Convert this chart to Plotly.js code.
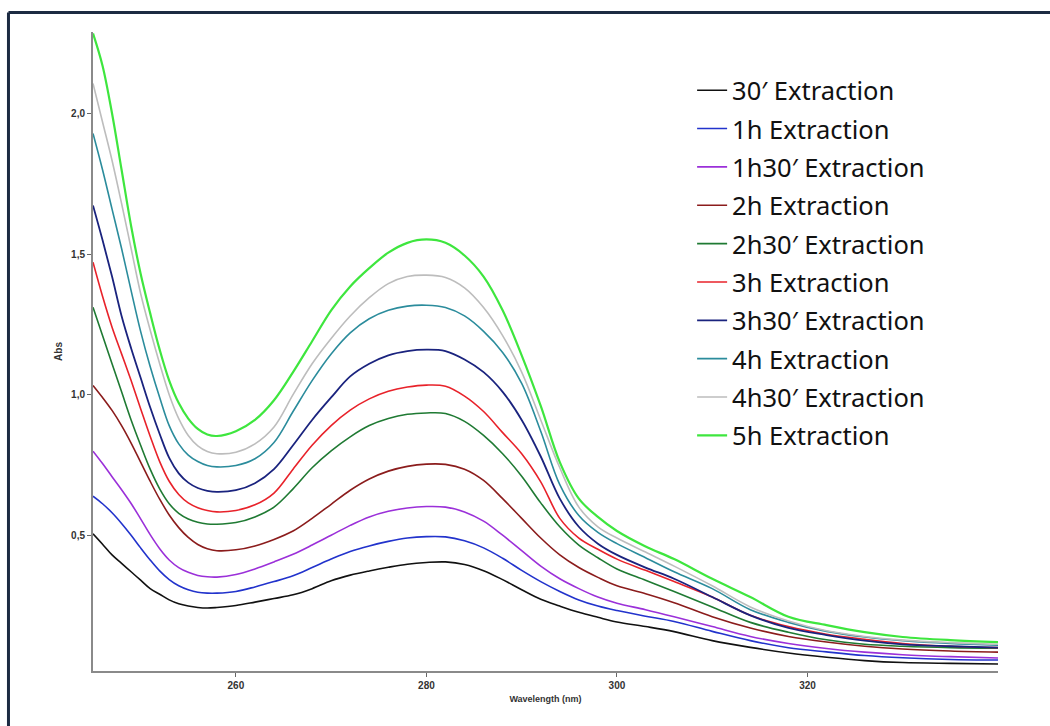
<!DOCTYPE html>
<html>
<head>
<meta charset="utf-8">
<script src="https://cdn.plot.ly/plotly-3.0.1.min.js"></script>
<style>
  html, body { margin: 0; padding: 0; background: #ffffff; }
  #chart { width: 1050px; height: 726px; }
</style>
</head>
<body>
<div id="chart"></div>
<script>
// Wavelength grid (nm)
const wavelength = [245,246,247,248,249,250,251,252,253,254,255,256,257,258,260,262,264,266,268,270,272,274,276,278,280,282,284,286,288,290,292,294,296,298,300,303,306,310,314,318,322,326,330,335,340];

const seriesNames = ["30′ Extraction","1h Extraction","1h30′ Extraction","2h Extraction","2h30′ Extraction","3h Extraction","3h30′ Extraction","4h Extraction","4h30′ Extraction","5h Extraction"];

const abs30m = [0.505,0.468,0.43,0.40,0.37,0.34,0.31,0.29,0.27,0.256,0.248,0.243,0.241,0.243,0.250,0.262,0.275,0.288,0.31,0.338,0.358,0.373,0.386,0.397,0.403,0.405,0.396,0.374,0.342,0.306,0.272,0.248,0.226,0.208,0.191,0.175,0.157,0.125,0.101,0.081,0.066,0.054,0.047,0.044,0.042];
const abs1h = [0.639,0.612,0.58,0.542,0.50,0.455,0.412,0.373,0.342,0.32,0.306,0.297,0.294,0.294,0.30,0.316,0.335,0.356,0.385,0.415,0.442,0.462,0.478,0.490,0.495,0.494,0.48,0.455,0.418,0.375,0.335,0.30,0.27,0.248,0.232,0.212,0.193,0.158,0.125,0.10,0.085,0.072,0.064,0.058,0.056];
const abs1h30 = [0.799,0.755,0.708,0.662,0.613,0.558,0.502,0.452,0.412,0.385,0.368,0.357,0.352,0.351,0.36,0.38,0.405,0.432,0.465,0.50,0.535,0.565,0.585,0.597,0.602,0.600,0.583,0.55,0.50,0.445,0.39,0.345,0.31,0.28,0.258,0.235,0.21,0.175,0.14,0.115,0.097,0.084,0.075,0.068,0.063];
const abs2h = [1.033,0.99,0.944,0.89,0.828,0.76,0.692,0.628,0.572,0.527,0.492,0.467,0.452,0.445,0.448,0.462,0.485,0.515,0.56,0.61,0.66,0.70,0.728,0.745,0.753,0.752,0.735,0.695,0.63,0.56,0.49,0.43,0.385,0.35,0.32,0.292,0.26,0.21,0.17,0.14,0.12,0.105,0.095,0.088,0.084];
const abs2h30 = [1.311,1.21,1.11,1.01,0.91,0.82,0.735,0.665,0.612,0.578,0.558,0.546,0.54,0.539,0.545,0.565,0.60,0.665,0.74,0.80,0.85,0.89,0.915,0.93,0.935,0.933,0.905,0.855,0.79,0.71,0.615,0.53,0.465,0.42,0.38,0.34,0.30,0.245,0.19,0.155,0.128,0.112,0.105,0.10,0.098];
const abs3h = [1.471,1.35,1.24,1.145,1.05,0.95,0.852,0.762,0.692,0.645,0.615,0.598,0.588,0.583,0.588,0.608,0.65,0.735,0.82,0.89,0.945,0.985,1.012,1.027,1.034,1.03,0.995,0.94,0.865,0.79,0.69,0.56,0.49,0.45,0.415,0.375,0.335,0.28,0.215,0.175,0.148,0.13,0.115,0.105,0.10];
const abs3h30 = [1.673,1.55,1.42,1.28,1.165,1.06,0.955,0.86,0.775,0.72,0.687,0.668,0.658,0.654,0.66,0.685,0.735,0.82,0.91,0.99,1.065,1.11,1.14,1.155,1.16,1.155,1.125,1.08,1.01,0.91,0.78,0.63,0.53,0.47,0.43,0.385,0.345,0.28,0.215,0.17,0.145,0.125,0.112,0.105,0.10];
const abs4h = [1.929,1.80,1.66,1.52,1.37,1.225,1.10,0.99,0.89,0.825,0.785,0.762,0.748,0.743,0.748,0.772,0.83,0.94,1.05,1.145,1.22,1.27,1.30,1.315,1.318,1.31,1.28,1.225,1.15,1.04,0.87,0.68,0.57,0.51,0.47,0.42,0.37,0.31,0.235,0.19,0.158,0.138,0.125,0.115,0.109];
const abs4h30 = [2.107,1.97,1.833,1.68,1.52,1.36,1.23,1.11,1.00,0.915,0.855,0.818,0.798,0.79,0.795,0.825,0.885,1.00,1.11,1.20,1.28,1.345,1.395,1.42,1.425,1.417,1.38,1.31,1.21,1.08,0.91,0.74,0.60,0.53,0.49,0.44,0.39,0.32,0.245,0.195,0.16,0.14,0.127,0.118,0.112];
const abs5h = [2.285,2.17,2.00,1.80,1.60,1.43,1.29,1.16,1.05,0.97,0.915,0.878,0.858,0.853,0.87,0.91,0.98,1.08,1.19,1.30,1.385,1.45,1.505,1.54,1.552,1.54,1.495,1.42,1.30,1.14,0.96,0.76,0.63,0.565,0.515,0.46,0.415,0.345,0.28,0.21,0.18,0.155,0.138,0.127,0.12];

const yTickVals = [0.5, 1.0, 1.5, 2.0];
const yTickText = ["0,5", "1,0", "1,5", "2,0"];
const xTickVals = [260, 280, 300, 320];

const allSeries = [abs30m, abs1h, abs1h30, abs2h, abs2h30, abs3h, abs3h30, abs4h, abs4h30, abs5h];
const colors = ["#111111", "#2233cc", "#9b30d9", "#8b1c1c", "#1f7a33", "#e8222a", "#1a237e", "#2b8c9c", "#bdbdbd", "#3ee63e"];
const widths = [1.6,1.6,1.6,1.6,1.6,1.6,1.8,1.6,1.6,2.2];

const traces = allSeries.map((ys, i) => ({
  type: 'scatter',
  mode: 'lines',
  x: wavelength,
  y: ys,
  name: seriesNames[i],
  legendgroup: 'g' + i,
  line: { color: colors[i], width: widths[i], shape: 'spline', smoothing: 1.0 },
  hoverinfo: 'skip'
}));

const layout = {
  width: 1050,
  height: 726,
  paper_bgcolor: '#ffffff',
  plot_bgcolor: '#ffffff',
  margin: { l: 93, r: 52, t: 32, b: 55, pad: 0 },
  showlegend: true,
  legend: {
    x: 0.662, y: 0.945, xanchor: 'left', yanchor: 'top',
    font: { family: 'Noto Sans, sans-serif', size: 25.5, color: '#111111' },
    bgcolor: 'rgba(0,0,0,0)',
    tracegroupgap: 2.2,
    itemwidth: 30
  },
  xaxis: {
    range: [245, 340],
    showgrid: false, zeroline: false,
    showline: true, linecolor: '#8a8a8a', linewidth: 2,
    ticks: 'outside', ticklen: 4, tickcolor: '#666', tickwidth: 1,
    tickvals: xTickVals,
    tickfont: { family: 'Liberation Sans, Arial, sans-serif', size: 10, color: '#333', weight: 'bold' },
    title: { text: 'Wavelength (nm)', font: { family: 'Liberation Sans, Arial, sans-serif', size: 9, color: '#333', weight: 'bold' }, standoff: 6 }
  },
  yaxis: {
    range: [0.017, 2.29],
    showgrid: false, zeroline: false,
    showline: true, linecolor: '#8a8a8a', linewidth: 2,
    ticks: 'outside', ticklen: 4, tickcolor: '#666', tickwidth: 1,
    tickvals: yTickVals, ticktext: yTickText,
    tickfont: { family: 'Liberation Sans, Arial, sans-serif', size: 10, color: '#333', weight: 'bold' },
    title: { text: 'Abs', font: { family: 'Liberation Sans, Arial, sans-serif', size: 10, color: '#333', weight: 'bold' } }
  },
  shapes: [
    { type: 'line', xref: 'paper', yref: 'paper', x0: -0.0934, x1: -0.0934, y0: -0.1, y1: 1.0305, line: { color: '#1c2b42', width: 3 } },
    { type: 'line', xref: 'paper', yref: 'paper', x0: -0.0934, x1: 1.1, y0: 1.0305, y1: 1.0305, line: { color: '#1c2b42', width: 3 } }
  ]
};

Plotly.newPlot('chart', traces, layout, { displayModeBar: false, staticPlot: true });
</script>
</body>
</html>
